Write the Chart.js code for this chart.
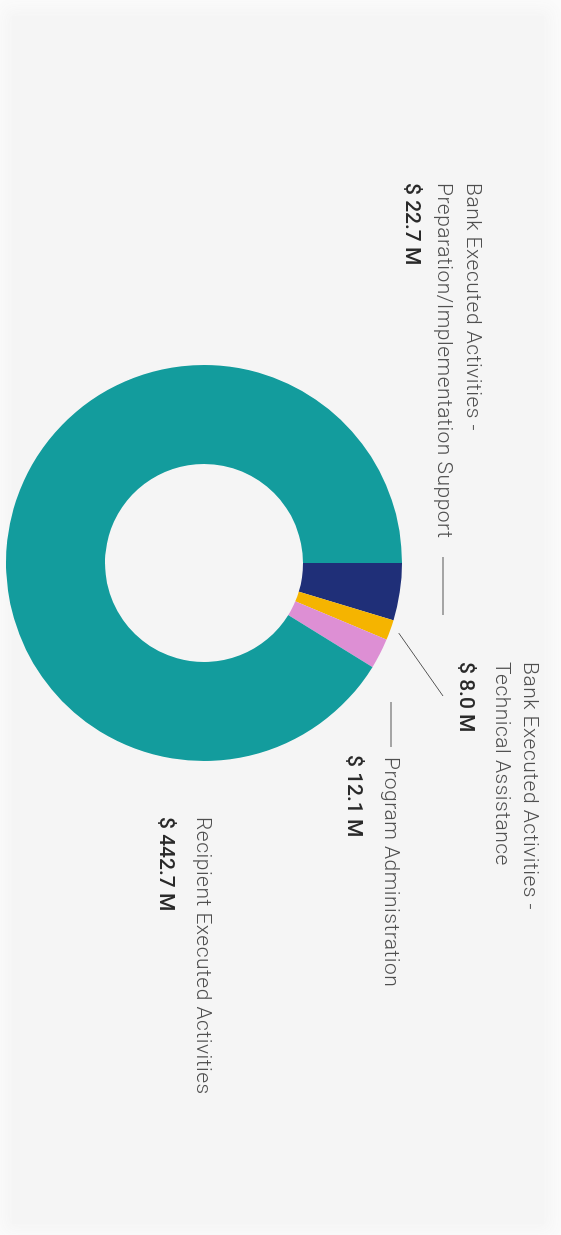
<!DOCTYPE html>
<html>
<head>
<meta charset="utf-8">
<script src="https://cdn.jsdelivr.net/npm/chart.js@4.4.1/dist/chart.umd.min.js"></script>
<style>
html,body{margin:0;padding:0;width:561px;height:1235px;overflow:hidden;background:#fbfbfb;}
#frame{position:absolute;left:12px;top:16px;width:532px;height:1208px;background:#f5f5f5;box-shadow:0 0 14px 8px #f5f5f5;}
#rot{position:absolute;left:0;top:0;width:1235px;height:561px;transform-origin:0 0;transform:translate(561px,0) rotate(90deg);}
canvas{display:block;}
</style>
</head>
<body>
<div id="frame"></div>
<div id="rot"><canvas id="c" width="1235" height="561"></canvas></div>
<script>
// ---- data ----
const categories = [
  "Bank Executed Activities - Preparation/Implementation Support",
  "Bank Executed Activities - Technical Assistance",
  "Program Administration",
  "Recipient Executed Activities"
];
const values = [22.7, 8.0, 12.1, 442.7];           // US$ millions
const labelLines = [
  ["Bank Executed Activities -", "Preparation/Implementation Support"],
  ["Bank Executed Activities -", "Technical Assistance"],
  ["Program Administration"],
  ["Recipient Executed Activities"]
];
const valueLabels = ["$ 22.7 M", "$ 8.0 M", "$ 12.1 M", "$ 442.7 M"];
const colors = ["#1f2f78", "#f5b400", "#dd8fd4", "#139c9d"];

// ---- label layout (chart coordinates, before page rotation) ----
const labelPos = [
  {x:183, lines:[89,118], val:150, dash:{y:118, x1:557, x2:615}},
  {x:662, lines:[32,60],  val:96,  leader:{x:696, y:118}},
  {x:757, lines:[171],    val:208, vx:755, dash:{y:170, x1:702, x2:747}},
  {x:817, lines:[359],    val:396}
];

const labelPlugin = {
  id: 'labels',
  afterDraw(chart) {
    const ctx = chart.ctx;
    const meta = chart.getDatasetMeta(0);
    ctx.save();
    ctx.textBaseline = 'middle';
    ctx.textAlign = 'left';
    labelPos.forEach((p, i) => {
      ctx.fillStyle = '#505050';
      ctx.font = '300 21px Roboto';
      ctx.letterSpacing = '0.5px';
      labelLines[i].forEach((t, k) => ctx.fillText(t, p.x, p.lines[k]));
      ctx.letterSpacing = '0px';
      ctx.fillStyle = '#2a2a2a';
      ctx.font = '500 21px Roboto';
      ctx.fillText(valueLabels[i], p.vx || p.x, p.val);
      if (p.dash) {
        ctx.strokeStyle = '#8a8a8a';
        ctx.lineWidth = 1.5;
        ctx.beginPath();
        ctx.moveTo(p.dash.x1, p.dash.y);
        ctx.lineTo(p.dash.x2, p.dash.y);
        ctx.stroke();
      }
      if (p.leader) {
        const arc = meta.data[i];
        const a = (arc.startAngle + arc.endAngle) / 2;
        const r = arc.outerRadius + 9;
        ctx.strokeStyle = '#555';
        ctx.lineWidth = 1;
        ctx.beginPath();
        ctx.moveTo(arc.x + Math.cos(a) * r, arc.y + Math.sin(a) * r);
        ctx.lineTo(p.leader.x, p.leader.y);
        ctx.stroke();
      }
    });
    ctx.restore();
  }
};

new Chart(document.getElementById('c'), {
  type: 'doughnut',
  data: {
    labels: categories,
    datasets: [{
      data: values,
      backgroundColor: colors,
      borderWidth: 0,
      hoverOffset: 0
    }]
  },
  options: {
    responsive: false,
    animation: false,
    cutout: '50%',
    layout: { padding: { left: 365, right: 474, top: 159, bottom: 6 } },
    plugins: { legend: { display: false }, tooltip: { enabled: false } },
    events: []
  },
  plugins: [labelPlugin]
});
</script>
</body>
</html>
